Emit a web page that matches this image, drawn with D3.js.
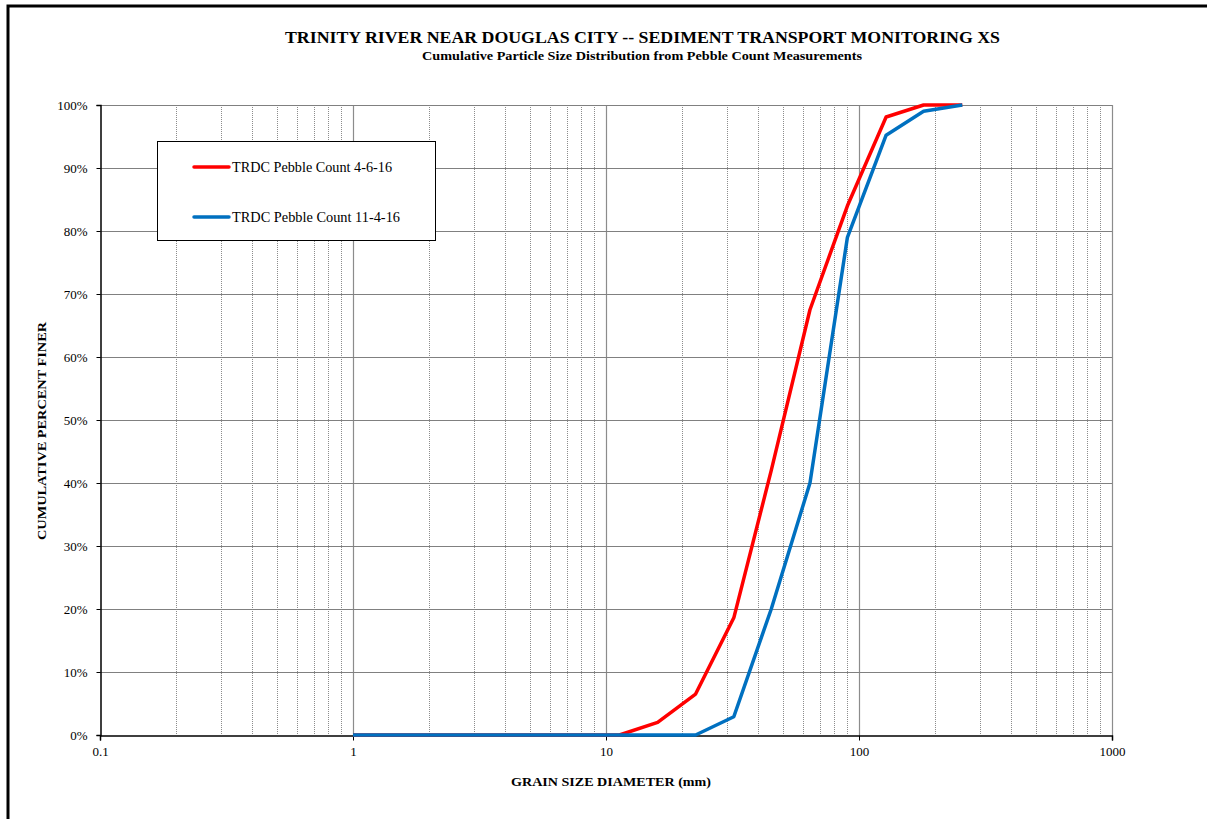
<!DOCTYPE html>
<html><head><meta charset="utf-8">
<script src="https://cdn.jsdelivr.net/npm/d3@7"></script>
<style>
body{margin:0;background:#fff;}
svg{display:block;font-family:"Liberation Serif","Times New Roman",serif;}
</style></head>
<body>
<svg id="chart" width="1207" height="819"></svg>
<script>
const grainSizes = [1, 2, 4, 8, 11.3, 16, 22.6, 32, 45, 64, 90, 128, 180, 256];
const seriesNames = ["TRDC Pebble Count 4-6-16", "TRDC Pebble Count 11-4-16"];
const seriesColors = ["#ff0000", "#0070c0"];
const pctApril = [0, 0, 0, 0, 0, 2, 6.5, 18.6, 42, 67.5, 84, 98.1, 100, 100];
const pctNov   = [0, 0, 0, 0, 0, 0, 0, 2.9, 20, 40, 79, 95.2, 99, 100];
const yTicks = [0,10,20,30,40,50,60,70,80,90,100];
const xTicks = [0.1, 1, 10, 100, 1000];
const title = "TRINITY RIVER NEAR DOUGLAS CITY -- SEDIMENT TRANSPORT MONITORING XS";
const subtitle = "Cumulative Particle Size Distribution from Pebble Count Measurements";
const xTitle = "GRAIN SIZE DIAMETER (mm)";
const yTitle = "CUMULATIVE PERCENT FINER";

const svg = d3.select("#chart");
const L=100, R=1112, T=105, B=735;
const x = d3.scaleLog().domain([0.1,1000]).range([L,R]);
const y = d3.scaleLinear().domain([0,100]).range([B,T]);

// outer frame
svg.append("rect").attr("x",8).attr("y",6).attr("width",1260).attr("height",900)
  .attr("fill","none").attr("stroke","#000").attr("stroke-width",3);

// minor vertical grid
const minors = [];
for (let d=0.1; d<1000; d*=10) for (let k=2;k<=9;k++) minors.push(+(d*k).toPrecision(3));
svg.append("g").selectAll("line").data(minors).join("line")
  .attr("x1",d=>Math.round(x(d))+0.5).attr("x2",d=>Math.round(x(d))+0.5)
  .attr("y1",T).attr("y2",B)
  .attr("stroke","#8c8c8c").attr("stroke-width",1).attr("stroke-dasharray","1,1");
// decade lines
svg.append("g").selectAll("line").data(xTicks.slice(1)).join("line")
  .attr("x1",d=>Math.round(x(d))+0.5).attr("x2",d=>Math.round(x(d))+0.5)
  .attr("y1",T).attr("y2",B).attr("stroke","#8c8c8c").attr("stroke-width",1.2);
// horizontal grid
svg.append("g").selectAll("line").data(yTicks.slice(1)).join("line")
  .attr("x1",L).attr("x2",R)
  .attr("y1",d=>Math.round(y(d))+0.5).attr("y2",d=>Math.round(y(d))+0.5)
  .attr("stroke","#808080").attr("stroke-width",1.2);

// axes
const yAxis = d3.axisLeft(y).tickValues(yTicks).tickFormat(d=>d+"%").tickSize(4).tickPadding(9);
const gy = svg.append("g").attr("transform",`translate(${L+0.5},0)`).call(yAxis);
gy.select(".domain").attr("stroke","#000").attr("stroke-width",1.5);
gy.selectAll(".tick line").attr("stroke","#000");
gy.selectAll("text").attr("font-size",13).attr("fill","#000").attr("font-family","Liberation Serif");

const xAxis = d3.axisBottom(x).tickValues(xTicks).tickFormat(d=>String(d)).tickSize(5).tickPadding(6);
const gx = svg.append("g").attr("transform",`translate(0,${B+0.5})`).call(xAxis);
gx.select(".domain").attr("stroke","#000").attr("stroke-width",1.5);
gx.selectAll(".tick line").attr("stroke","#000");
gx.selectAll("text").attr("font-size",13).attr("fill","#000").attr("font-family","Liberation Serif");

// lines
const line = d3.line().x((d,i)=>x(grainSizes[i])).y(d=>y(d));
[pctApril, pctNov].forEach((vals,i)=>{
  svg.append("path").datum(vals).attr("d",line).attr("fill","none")
    .attr("stroke",seriesColors[i]).attr("stroke-width",3.5).attr("stroke-linejoin","round");
});

// legend
const lg = svg.append("g");
lg.append("rect").attr("x",157.5).attr("y",141.5).attr("width",278).attr("height",99)
  .attr("fill","#fff").attr("stroke","#000").attr("stroke-width",1);
const legendLens = [160, 168];
seriesNames.forEach((n,i)=>{
  const yy = 167 + i*50;
  lg.append("line").attr("x1",194).attr("x2",229).attr("y1",yy).attr("y2",yy)
    .attr("stroke",seriesColors[i]).attr("stroke-width",3.5).attr("stroke-linecap","round");
  lg.append("text").attr("x",232).attr("y",yy+4.5).attr("font-size",14)
    .attr("textLength",legendLens[i]).attr("lengthAdjust","spacingAndGlyphs").text(n);
});

// titles
svg.append("text").attr("x",285).attr("y",43)
  .attr("font-size",17).attr("font-weight","bold")
  .attr("textLength",715).attr("lengthAdjust","spacingAndGlyphs").text(title);
svg.append("text").attr("x",422).attr("y",60)
  .attr("font-size",12.5).attr("font-weight","bold")
  .attr("textLength",440).attr("lengthAdjust","spacingAndGlyphs").text(subtitle);
svg.append("text").attr("x",511).attr("y",786)
  .attr("font-size",12.5).attr("font-weight","bold")
  .attr("textLength",200).attr("lengthAdjust","spacingAndGlyphs").text(xTitle);
svg.append("text").attr("transform","translate(46,540) rotate(-90)")
  .attr("font-size",12.5).attr("font-weight","bold")
  .attr("textLength",218).attr("lengthAdjust","spacingAndGlyphs").text(yTitle);
</script>
</body></html>
